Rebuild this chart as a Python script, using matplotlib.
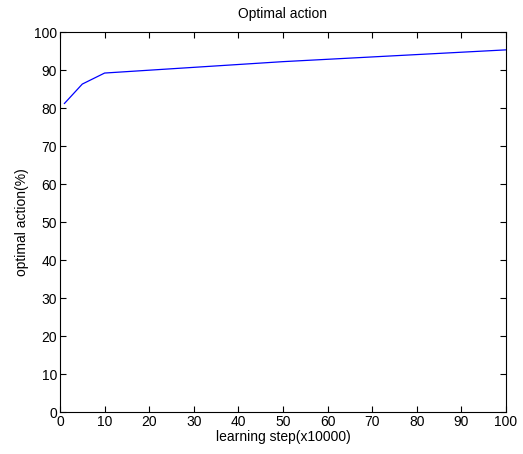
import matplotlib
matplotlib.use('Agg')
import matplotlib.pyplot as plt

plt.rcParams['font.family'] = ['Liberation Sans', 'DejaVu Sans']
plt.rcParams['font.size'] = 10

steps = [1, 5, 10, 50, 100]
optimal = [81.2, 86.3, 89.2, 92.2, 95.3]

fig = plt.figure(figsize=(5.23, 4.54), dpi=100)
ax = fig.add_axes([0.1147, 0.0925, 0.8528, 0.837])

ax.plot(steps, optimal, color='blue', linewidth=0.9)

ax.set_xlim(0, 100)
ax.set_ylim(0, 100)
ax.set_xticks(range(0, 101, 10))
ax.set_yticks(range(0, 101, 10))
ax.tick_params(direction='in', top=True, right=True, length=4, width=0.8, pad=2)
for s in ax.spines.values():
    s.set_linewidth(0.8)

ax.set_title('Optimal action', fontsize=10, pad=10)
ax.set_xlabel('learning step(x10000)', labelpad=1)
ax.set_ylabel('optimal action(%)', labelpad=4)

fig.savefig('out.png', dpi=100)
